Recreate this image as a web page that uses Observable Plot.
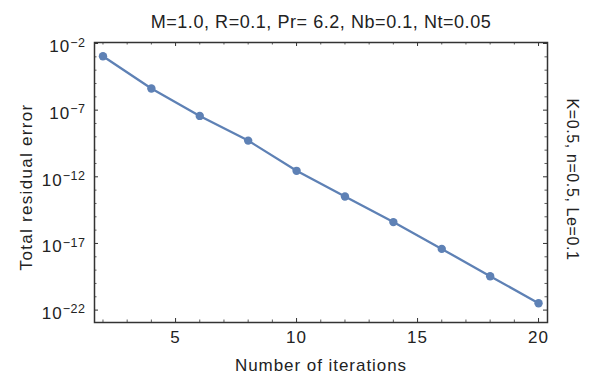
<!DOCTYPE html>
<html><head><meta charset="utf-8">
<script src="https://cdn.jsdelivr.net/npm/d3@7"></script>
<script src="https://cdn.jsdelivr.net/npm/@observablehq/plot@0.6"></script>
<style>
body{margin:0;background:#fff}
#chart{position:relative;width:591px;height:377px}
svg{font-family:"Liberation Sans",Arial,sans-serif}
</style>
</head><body><div id="chart"></div>
<script>
const iterations = [2, 4, 6, 8, 10, 12, 14, 16, 18, 20];
const residualError = [1.1e-3, 4.2e-6, 3.7e-8, 5.2e-10, 2.8e-12, 3.3e-14, 4.0e-16, 3.9e-18, 3.5e-20, 3.3e-22];
const xTicks = [5, 10, 15, 20];
const xMinorTicks = [2, 3, 4, 6, 7, 8, 9, 11, 12, 13, 14, 16, 17, 18, 19];
const yTicks = [1e-2, 1e-7, 1e-12, 1e-17, 1e-22];
const yTickLabels = ["−2", "−7", "−12", "−17", "−22"];
const yMinorTicks = [1e-3,1e-4,1e-5,1e-6,1e-8,1e-9,1e-10,1e-11,1e-13,1e-14,1e-15,1e-16,1e-18,1e-19,1e-20,1e-21];
const title = "M=1.0, R=0.1, Pr= 6.2, Nb=0.1, Nt=0.05";
const rightLabel = "K=0.5, n=0.5, Le=0.1";
const xLabel = "Number of iterations";
const yLabel = "Total residual error";

const data = iterations.map((x, i) => ({x, y: residualError[i]}));
const W = 591, H = 377, mL = 94, mR = 44, mT = 42, mB = 55;
const innerH = H - mT - mB, innerW = W - mL - mR;
const col = "#5E81B5", frameCol = "#333", textCol = "#222";
const FF = '"Liberation Sans", Arial, sans-serif';

const plot = Plot.plot({
  width: W, height: H,
  marginLeft: mL, marginRight: mR, marginTop: mT, marginBottom: mB,
  style: {fontFamily: FF, color: textCol, background: "#fff"},
  x: {domain: [1.65, 20.37]},
  y: {type: "log", domain: [Math.pow(10, -22.93), Math.pow(10, -1.925)]},
  marks: [
    Plot.axisX(xTicks, {tickSize: 0, tickPadding: 8.5, fontSize: 17, label: null, fill: textCol}),
    Plot.axisY(yTicks, {tickSize: 0, tickPadding: 9, fontSize: 17, label: null, tickFormat: () => "10", dy: 3.3, fill: textCol}),
    Plot.tickX(xTicks, {x: d => d, insetTop: innerH - 4, stroke: frameCol, strokeWidth: 1}),
    Plot.tickX(xTicks, {x: d => d, insetBottom: innerH - 4, stroke: frameCol, strokeWidth: 1}),
    Plot.tickX(xMinorTicks, {x: d => d, insetTop: innerH - 2.5, stroke: frameCol, strokeWidth: 0.8}),
    Plot.tickX(xMinorTicks, {x: d => d, insetBottom: innerH - 2.5, stroke: frameCol, strokeWidth: 0.8}),
    Plot.tickY(yTicks, {y: d => d, insetRight: innerW - 4, stroke: frameCol, strokeWidth: 1}),
    Plot.tickY(yTicks, {y: d => d, insetLeft: innerW - 4, stroke: frameCol, strokeWidth: 1}),
    Plot.tickY(yMinorTicks, {y: d => d, insetRight: innerW - 2.5, stroke: frameCol, strokeWidth: 0.8}),
    Plot.tickY(yMinorTicks, {y: d => d, insetLeft: innerW - 2.5, stroke: frameCol, strokeWidth: 0.8}),
    Plot.line(data, {x: "x", y: "y", stroke: col, strokeWidth: 2.3}),
    Plot.dot(data, {x: "x", y: "y", r: 4.2, fill: col, stroke: "none"}),
    Plot.frame({stroke: frameCol, strokeWidth: 1.5}),
    Plot.text([title], {frameAnchor: "top", dy: -20.1, text: d => d, fontSize: 18, lineAnchor: "middle", textAnchor: "middle", fill: textCol}),
    Plot.text([xLabel], {frameAnchor: "bottom", dy: 43.3, text: d => d, fontSize: 17, lineAnchor: "middle", textAnchor: "middle", fill: textCol}),
    Plot.text([yLabel], {frameAnchor: "left", dx: -68, dy: 4.5, rotate: -90, text: d => d, fontSize: 17, lineAnchor: "middle", textAnchor: "middle", fill: textCol}),
    Plot.text([rightLabel], {frameAnchor: "right", dx: 25, dy: -3, rotate: 90, text: d => d, fontSize: 16, lineAnchor: "middle", textAnchor: "middle", fill: textCol})
  ]
});

plot.querySelectorAll('g[aria-label="y-axis tick label"] text').forEach((t, i) => {
  t.style.letterSpacing = "1px";
  const ts = document.createElementNS("http://www.w3.org/2000/svg", "tspan");
  ts.setAttribute("dy", "-5.5");
  ts.setAttribute("font-size", "12.5");
  ts.style.letterSpacing = "0.5px";
  ts.textContent = yTickLabels[i];
  t.appendChild(ts);
});
plot.querySelectorAll('g[aria-label="x-axis tick label"] text').forEach(t => { t.style.letterSpacing = "1px"; });
plot.querySelectorAll('text').forEach(t => {
  if (t.textContent === title) t.style.letterSpacing = "0.55px";
  if (t.textContent === xLabel) t.style.letterSpacing = "0.95px";
  if (t.textContent === yLabel) t.style.letterSpacing = "1.3px";
  if (t.textContent === rightLabel) t.style.letterSpacing = "0.6px";
});
document.getElementById("chart").appendChild(plot);
</script>
</body></html>
